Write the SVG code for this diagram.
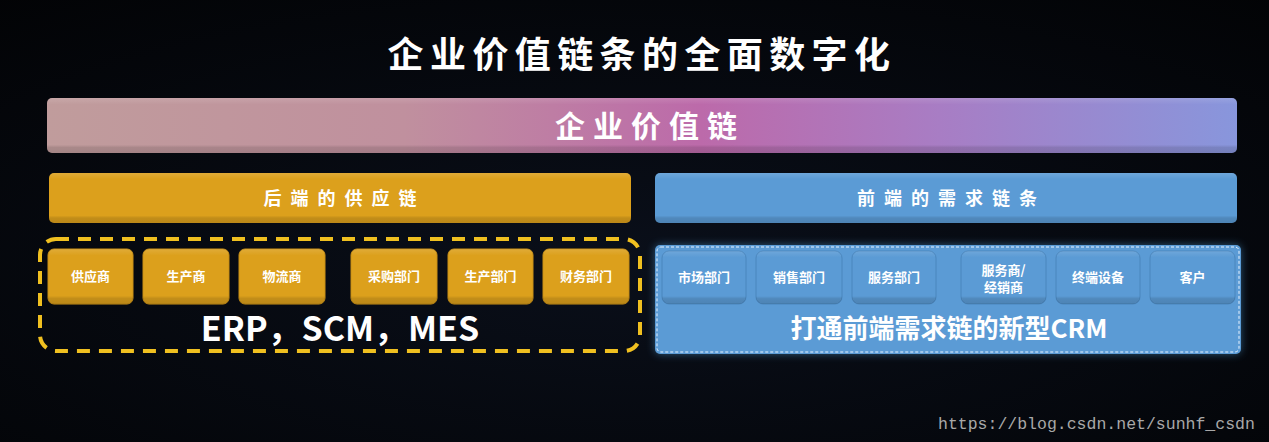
<svg xmlns="http://www.w3.org/2000/svg" width="1269" height="442" viewBox="0 0 1269 442">
<defs>
<linearGradient id="gTop" x1="0" y1="0" x2="1" y2="0">
<stop offset="0" stop-color="#c09c9c"/>
<stop offset="0.3" stop-color="#c0909e"/>
<stop offset="0.55" stop-color="#bc6aaa"/>
<stop offset="0.75" stop-color="#a87dc4"/>
<stop offset="1" stop-color="#8896dc"/>
</linearGradient>
<linearGradient id="gShade" x1="0" y1="0" x2="0" y2="1">
<stop offset="0" stop-color="#fff" stop-opacity="0.12"/>
<stop offset="0.12" stop-color="#fff" stop-opacity="0"/>
<stop offset="0.85" stop-color="#000" stop-opacity="0"/>
<stop offset="0.9" stop-color="#000" stop-opacity="0.12"/>
<stop offset="1" stop-color="#000" stop-opacity="0.15"/>
</linearGradient>
<radialGradient id="gBg" cx="0.5" cy="0.6" r="0.8">
<stop offset="0" stop-color="#0a0f1a"/>
<stop offset="1" stop-color="#020305"/>
</radialGradient>
<filter id="glow" x="-5%" y="-20%" width="110%" height="140%">
<feGaussianBlur stdDeviation="4"/>
</filter>
<style>
.t{font-family:"Noto Sans CJK SC","Noto Sans",sans-serif;font-weight:bold;fill:#fff;text-anchor:middle}
.ob{fill:#dca01c}
.bb{fill:#5b9bd5}
.sb{fill:#dca01c;stroke:#c98f14;stroke-width:1}
.sbb{fill:#5b9bd5;stroke:#4a86bd;stroke-width:1}
.st{font-size:13px}
</style>
</defs>
<rect width="1269" height="442" fill="url(#gBg)"/>

<text class="t" x="642" y="68" font-size="36" letter-spacing="6.4">企业价值链条的全面数字化</text>

<g id="value-chain">
<rect x="47" y="98" width="1190" height="55" rx="5" fill="url(#gTop)"/>
<rect x="47" y="98" width="1190" height="55" rx="5" fill="url(#gShade)"/>
<text class="t" x="650" y="137" font-size="30" letter-spacing="8">企业价值链</text>
</g>

<g id="supply-chain">
<rect x="49" y="173" width="582" height="50" rx="5" class="ob"/>
<rect x="49" y="173" width="582" height="50" rx="5" fill="url(#gShade)"/>
<text class="t" x="344.5" y="205" font-size="18" letter-spacing="9">后端的供应链</text>
</g>

<g id="demand-chain">
<rect x="655" y="173" width="582" height="50" rx="5" class="bb"/>
<rect x="655" y="173" width="582" height="50" rx="5" fill="url(#gShade)"/>
<text class="t" x="951.5" y="205" font-size="18" letter-spacing="9">前端的需求链条</text>
</g>

<g id="erp-group">
<rect x="40" y="239" width="600" height="112" rx="16" fill="none" stroke="#f0c020" stroke-width="4" stroke-dasharray="13 9"/>
<text class="t" x="340" y="341" font-size="34">ERP，SCM，MES</text>
</g>

<g id="n-gys"><rect x="48" y="249" width="85" height="55" rx="6" class="sb"/><rect x="48" y="249" width="85" height="55" rx="6" fill="url(#gShade)"/><text class="t st" x="90.5" y="281">供应商</text></g>
<g id="n-scs"><rect x="143" y="249" width="86" height="55" rx="6" class="sb"/><rect x="143" y="249" width="86" height="55" rx="6" fill="url(#gShade)"/><text class="t st" x="186" y="281">生产商</text></g>
<g id="n-wls"><rect x="239" y="249" width="86" height="55" rx="6" class="sb"/><rect x="239" y="249" width="86" height="55" rx="6" fill="url(#gShade)"/><text class="t st" x="282" y="281">物流商</text></g>
<g id="n-cgbm"><rect x="351" y="249" width="86" height="55" rx="6" class="sb"/><rect x="351" y="249" width="86" height="55" rx="6" fill="url(#gShade)"/><text class="t st" x="394" y="281">采购部门</text></g>
<g id="n-scbm"><rect x="448" y="249" width="85" height="55" rx="6" class="sb"/><rect x="448" y="249" width="85" height="55" rx="6" fill="url(#gShade)"/><text class="t st" x="490.5" y="281">生产部门</text></g>
<g id="n-cwbm"><rect x="543" y="249" width="86" height="55" rx="6" class="sb"/><rect x="543" y="249" width="86" height="55" rx="6" fill="url(#gShade)"/><text class="t st" x="586" y="281">财务部门</text></g>

<g id="crm-group">
<rect x="655" y="245" width="586" height="109" rx="5" fill="#5ab0f0" opacity="0.45" filter="url(#glow)"/>
<rect x="655" y="245" width="586" height="109" rx="5" class="bb"/>
<rect x="657" y="247" width="582" height="105" rx="4" fill="none" stroke="#e8f2ff" stroke-width="1" stroke-dasharray="3 2"/>
<text class="t" x="949" y="338" font-size="26">打通前端需求链的新型CRM</text>
</g>

<g id="n-scbm2"><rect x="662" y="251" width="84" height="53" rx="7" class="sbb"/><rect x="662" y="251" width="84" height="53" rx="7" fill="url(#gShade)"/><text class="t st" x="704" y="282">市场部门</text></g>
<g id="n-xsbm"><rect x="756" y="251" width="86" height="53" rx="7" class="sbb"/><rect x="756" y="251" width="86" height="53" rx="7" fill="url(#gShade)"/><text class="t st" x="799" y="282">销售部门</text></g>
<g id="n-fwbm"><rect x="852" y="251" width="84" height="53" rx="7" class="sbb"/><rect x="852" y="251" width="84" height="53" rx="7" fill="url(#gShade)"/><text class="t st" x="894" y="282">服务部门</text></g>
<g id="n-fws"><rect x="961" y="251" width="85" height="53" rx="7" class="sbb"/><rect x="961" y="251" width="85" height="53" rx="7" fill="url(#gShade)"/><text class="t st" x="1003.5" y="275">服务商/</text><text class="t st" x="1003.5" y="292">经销商</text></g>
<g id="n-zdsb"><rect x="1056" y="251" width="84" height="53" rx="7" class="sbb"/><rect x="1056" y="251" width="84" height="53" rx="7" fill="url(#gShade)"/><text class="t st" x="1098" y="282">终端设备</text></g>
<g id="n-kh"><rect x="1150" y="251" width="85" height="53" rx="7" class="sbb"/><rect x="1150" y="251" width="85" height="53" rx="7" fill="url(#gShade)"/><text class="t st" x="1192.5" y="282">客户</text></g>

<g id="connectors"></g>

<text x="938" y="429" font-family="Liberation Mono, monospace" font-size="16.5" fill="#a8a8a8">https://blog.csdn.net/sunhf_csdn</text>
</svg>
